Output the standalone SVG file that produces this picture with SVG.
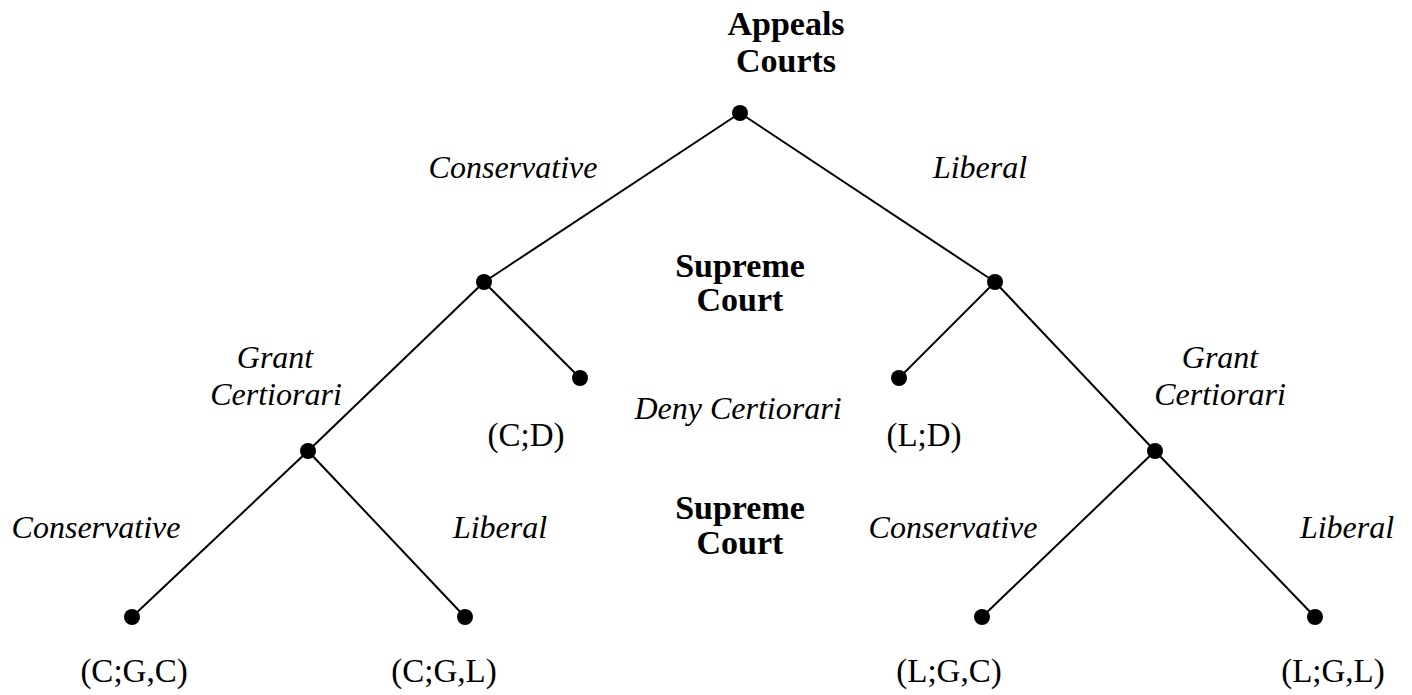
<svg xmlns="http://www.w3.org/2000/svg" width="1412" height="695" viewBox="0 0 1412 695">
<style>
text{font-family:"Liberation Serif","Times New Roman",serif;font-size:33px;fill:#000}
.b{font-weight:bold;text-anchor:middle;font-size:34px}
.i{font-style:italic;font-size:32px}
.m{text-anchor:middle}
line{stroke:#000;stroke-width:2}
circle{fill:#000}
</style>
<rect width="1412" height="695" fill="#fff"/>
<g id="connectors">
<line x1="740" y1="113" x2="484" y2="282"/>
<line x1="740" y1="113" x2="995" y2="282"/>
<line x1="484" y1="282" x2="308" y2="451"/>
<line x1="484" y1="282" x2="580" y2="378"/>
<line x1="995" y1="282" x2="899" y2="378"/>
<line x1="995" y1="282" x2="1155" y2="451"/>
<line x1="308" y1="451" x2="132" y2="617"/>
<line x1="308" y1="451" x2="465" y2="617"/>
<line x1="1155" y1="451" x2="982" y2="617"/>
<line x1="1155" y1="451" x2="1315" y2="617"/>
</g>
<g id="root"><circle cx="740" cy="113" r="8"/><text class="b" x="786" y="35">Appeals</text><text class="b" x="786" y="72">Courts</text></g>
<g id="sc-left"><circle cx="484" cy="282" r="8"/></g>
<g id="sc-right"><circle cx="995" cy="282" r="8"/></g>
<g id="sc-label"><text class="b" x="740" y="277">Supreme</text><text class="b" x="740" y="311">Court</text></g>
<g id="leaf-cd"><circle cx="580" cy="378" r="8"/><text class="m" x="526" y="446">(C;D)</text></g>
<g id="leaf-ld"><circle cx="899" cy="378" r="8"/><text class="m" x="924" y="446">(L;D)</text></g>
<g id="grant-left"><circle cx="308" cy="451" r="8"/></g>
<g id="grant-right"><circle cx="1155" cy="451" r="8"/></g>
<g id="sc-label2"><text class="b" x="740" y="519">Supreme</text><text class="b" x="740" y="554">Court</text></g>
<g id="leaf-cgc"><circle cx="132" cy="617" r="8"/><text class="m" x="134" y="682">(C;G,C)</text></g>
<g id="leaf-cgl"><circle cx="465" cy="617" r="8"/><text class="m" x="444" y="682">(C;G,L)</text></g>
<g id="leaf-lgc"><circle cx="982" cy="617" r="8"/><text class="m" x="949" y="682">(L;G,C)</text></g>
<g id="leaf-lgl"><circle cx="1315" cy="617" r="8"/><text class="m" x="1333" y="682">(L;G,L)</text></g>
<g id="labels">
<text class="i m" x="513" y="178">Conservative</text>
<text class="i m" x="980" y="178">Liberal</text>
<text class="i m" x="275" y="368">Grant</text>
<text class="i m" x="276" y="405">Certiorari</text>
<text class="i m" x="738" y="419">Deny Certiorari</text>
<text class="i m" x="1220" y="368">Grant</text>
<text class="i m" x="1220" y="405">Certiorari</text>
<text class="i m" x="96" y="538">Conservative</text>
<text class="i m" x="500" y="538">Liberal</text>
<text class="i m" x="953" y="538">Conservative</text>
<text class="i m" x="1347" y="538">Liberal</text>
</g>
</svg>
